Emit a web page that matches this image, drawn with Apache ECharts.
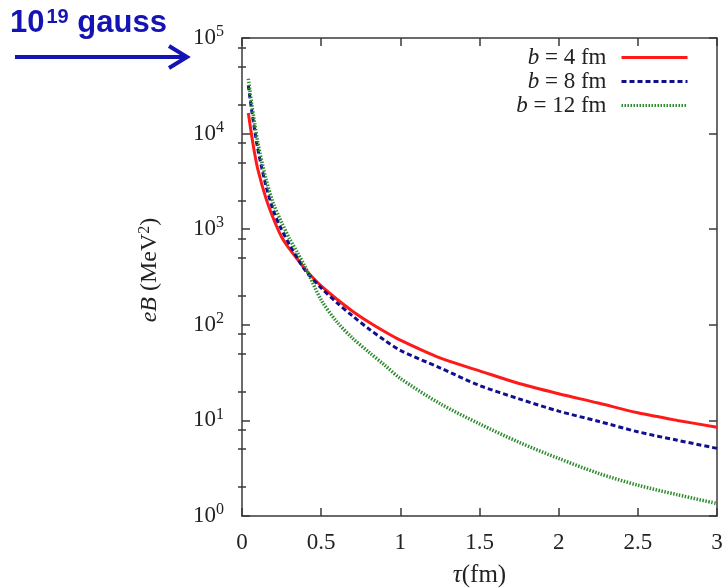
<!DOCTYPE html>
<html lang="en">
<head>
  <meta charset="UTF-8">
  <title>eB vs tau</title>
  <style>
    html, body { margin: 0; padding: 0; background: #fff; }
    #main { width: 728px; height: 588px; }
  </style>
  <script src="https://cdn.jsdelivr.net/npm/echarts@6/dist/echarts.min.js"></script>
</head>
<body>
  <div id="main"></div>
  <script>
    // tau (fm)
    var tau = [0.04, 0.06, 0.08, 0.1, 0.15, 0.2, 0.25, 0.3, 0.35, 0.4, 0.5, 0.6, 0.7, 0.8, 0.9, 1.0,
               1.25, 1.5, 1.75, 2.0, 2.25, 2.5, 2.75, 3.0];
    // eB (MeV^2)
    var b4 = [16400, 9800, 6200, 4230, 2140, 1270, 830, 621, 485, 380, 255, 185, 138, 107, 85, 69,
              45, 33, 24.3, 19, 15.2, 12, 10, 8.5];
    var b8 = [31900, 18000, 10900, 6850, 2900, 1540, 990, 690, 500, 370, 243, 170, 123, 91, 69, 54,
              35.5, 23.2, 16.8, 12.5, 9.8, 7.6, 6.2, 5.1];
    var b12 = [37500, 21000, 12800, 8050, 3400, 1820, 1180, 796, 570, 400, 182, 107, 72, 52, 38, 27.5,
               15, 9.2, 5.9, 4.0, 2.8, 2.1, 1.67, 1.35];
    var seriesNames = ['b = 4 fm', 'b = 8 fm', 'b = 12 fm'];
    var yExp = [0, 1, 2, 3, 4, 5];
    var minorMul = [2, 5, 8];

    var serif = '"Liberation Serif", "DejaVu Serif", serif';
    var axisColor = '#3a3a3a';
    var blue = '#1414b4';

    function pairs(ys) {
      return tau.map(function (t, i) { return [t, ys[i]]; });
    }

    // minor tick positions in log10 space (for the helper value axes)
    var minorPos = [];
    yExp.slice(0, -1).forEach(function (e) {
      minorMul.forEach(function (m) { minorPos.push(e + Math.log10(m)); });
    });

    var chart = echarts.init(document.getElementById('main'));

    var option = {
      backgroundColor: '#fff',
      animation: false,
      grid: { left: 242, right: 11, top: 38, bottom: 72, outerBoundsMode: 'none', containLabel: false },
      legend: {
        orient: 'vertical',
        align: 'right',
        right: 34,
        top: 41,
        itemWidth: 66,
        itemHeight: 12,
        itemGap: 1,
        data: seriesNames,
        itemStyle: { opacity: 0 },
        lineStyle: { width: 3 },
        formatter: function (name) {
          return '{i|b}' + name.slice(1);
        },
        textStyle: {
          fontFamily: serif,
          fontSize: 23,
          lineHeight: 23,
          color: '#222',
          padding: [0, 10, 0, 0],
          rich: {
            i: { fontFamily: serif, fontSize: 23, fontStyle: 'italic', color: '#222' }
          }
        }
      },
      xAxis: [
        {
          type: 'value',
          min: 0, max: 3, interval: 0.5,
          position: 'bottom',
          name: '{i|τ}(fm)',
          nameLocation: 'middle',
          nameGap: 47,
          nameTextStyle: {
            fontFamily: serif, fontSize: 25, color: '#222',
            rich: { i: { fontFamily: serif, fontSize: 25, fontStyle: 'italic', color: '#222' } }
          },
          axisLine: { show: true, onZero: false, lineStyle: { color: axisColor, width: 1.5 } },
          axisTick: { show: true, inside: true, length: 8, lineStyle: { color: axisColor, width: 1.5 } },
          axisLabel: {
            margin: 15, fontFamily: serif, fontSize: 23, color: '#222',
            formatter: function (v) { return String(v); }
          },
          splitLine: { show: false }
        },
        {
          type: 'value',
          min: 0, max: 3, interval: 0.5,
          position: 'top',
          axisLine: { show: true, onZero: false, lineStyle: { color: axisColor, width: 1.5 } },
          axisTick: { show: true, inside: true, length: 8, lineStyle: { color: axisColor, width: 1.5 } },
          axisLabel: { show: false },
          splitLine: { show: false }
        }
      ],
      yAxis: [
        {
          type: 'log',
          logBase: 10,
          min: 1, max: 1e5,
          position: 'left',
          name: '{i|eB} (MeV{s|2})',
          nameLocation: 'middle',
          nameGap: 79,
          nameRotate: 90,
          nameTextStyle: {
            fontFamily: serif, fontSize: 24, color: '#222',
            padding: [0, 0, 0, 14],
            rich: {
              i: { fontFamily: serif, fontSize: 24, fontStyle: 'italic', color: '#222' },
              s: { fontFamily: serif, fontSize: 16, color: '#222', padding: [0, 0, 10, 0] }
            }
          },
          axisLine: { show: true, onZero: false, lineStyle: { color: axisColor, width: 1.5 } },
          axisTick: { show: true, inside: true, length: 8, lineStyle: { color: axisColor, width: 1.5 } },
          axisLabel: {
            margin: 18,
            formatter: function (v) {
              return '{b|10}{s|' + Math.round(Math.log10(v)) + '}';
            },
            rich: {
              b: { fontFamily: serif, fontSize: 23, color: '#222' },
              s: { fontFamily: serif, fontSize: 16, color: '#222', padding: [0, 0, 12, 0] }
            }
          },
          splitLine: { show: false }
        },
        {
          type: 'log',
          logBase: 10,
          min: 1, max: 1e5,
          position: 'right',
          axisLine: { show: true, onZero: false, lineStyle: { color: axisColor, width: 1.5 } },
          axisTick: { show: true, inside: true, length: 8, lineStyle: { color: axisColor, width: 1.5 } },
          axisLabel: { show: false },
          splitLine: { show: false }
        },
        // minor ticks (log10 space helper axes)
        {
          type: 'value',
          min: 0, max: 5,
          position: 'left',
          axisLine: { show: false },
          axisTick: { show: true, inside: true, length: 4, customValues: minorPos,
                      lineStyle: { color: axisColor, width: 1.5 } },
          axisLabel: { show: false },
          splitLine: { show: false }
        },
        {
          type: 'value',
          min: 0, max: 5,
          position: 'right',
          axisLine: { show: false },
          axisTick: { show: true, inside: true, length: 4, customValues: minorPos,
                      lineStyle: { color: axisColor, width: 1.5 } },
          axisLabel: { show: false },
          splitLine: { show: false }
        }
      ],
      graphic: [
        {
          type: 'text',
          left: 10,
          top: 7,
          style: {
            text: '{a|10}{b|19}{a| gauss}',
            rich: {
              a: { fontFamily: '"Liberation Sans", Arial, sans-serif', fontSize: 31, fontWeight: 'bold', fill: blue },
              b: { fontFamily: '"Liberation Sans", Arial, sans-serif', fontSize: 20, fontWeight: 'bold', fill: blue, padding: [0, 0, 12, 2] }
            }
          }
        },
        {
          type: 'polyline',
          shape: { points: [[15, 57], [186, 57]] },
          style: { stroke: blue, lineWidth: 4, fill: null }
        },
        {
          type: 'polyline',
          shape: { points: [[169, 46], [187, 57], [169, 68]] },
          style: { stroke: blue, lineWidth: 4, fill: null, lineJoin: 'miter' }
        }
      ],
      series: [
        {
          name: seriesNames[0], type: 'line', data: pairs(b4),
          xAxisIndex: 0, yAxisIndex: 0,
          symbol: 'none', smooth: 0.3,
          lineStyle: { color: '#ff1a1a', width: 3, type: 'solid' },
          itemStyle: { color: '#ff1a1a' }
        },
        {
          name: seriesNames[1], type: 'line', data: pairs(b8),
          xAxisIndex: 0, yAxisIndex: 0,
          symbol: 'none', smooth: 0.3,
          lineStyle: { color: '#10108f', width: 3, type: [5, 3] },
          itemStyle: { color: '#10108f' }
        },
        {
          name: seriesNames[2], type: 'line', data: pairs(b12),
          xAxisIndex: 0, yAxisIndex: 0,
          symbol: 'none', smooth: 0.3,
          lineStyle: { color: '#2e8b2e', width: 3.5, type: [1.5, 1.5] },
          itemStyle: { color: '#2e8b2e' }
        }
      ]
    };

    chart.setOption(option);
  </script>
</body>
</html>
